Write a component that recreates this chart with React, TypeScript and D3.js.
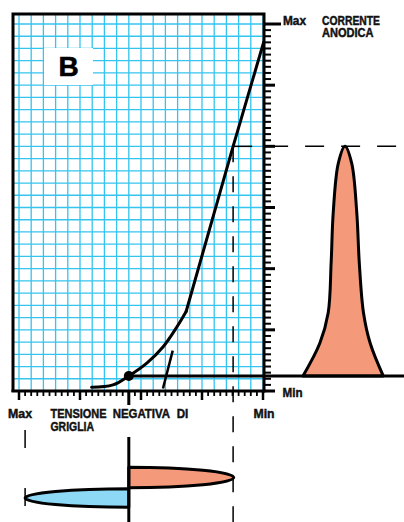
import React from "react";
import * as d3 from "d3";

// ---- Data ----
// Transfer characteristic: grid voltage (cells from Max) vs anode current (cells from Min)
const curveVg = [5.95, 7.7, 9.0, 10.5, 11.8, 12.95, 13.7, 17.55, 20.05];
const curveIa = [0.3, 0.5, 1.23, 2.3, 3.6, 5.25, 6.5, 20.0, 28.5];
// operating point
const opVg = [9.0];
const opIa = [1.23];
// short auxiliary line
const auxVg = [11.8, 12.6];
const auxIa = [0.2, 3.3];
// Anode current pulse (time offset, current)
const pulseT = [-1.0, -0.6, -0.4, -0.33, -0.28, -0.16, 0, 0.16, 0.28, 0.34, 0.44, 0.6, 0.91];
const pulseIa = [1.23, 3.9, 6.4, 10.5, 14.6, 18.6, 20.0, 18.6, 14.6, 10.5, 6.4, 3.9, 1.23];
// grid signal swing: [peak grid voltage, centre time, half duration]
const swingPeakVg = [17.6, 0.5];
const swingCentreT = [0.0, 1.0];
const swingHalfT = [0.5, 0.45];
const rightTickLabels = ["Max", "Min"];
const bottomTickLabels = ["Max", "Min"];
const axisTitleY = ["CORRENTE", "ANODICA"];
const axisTitleX = ["TENSIONE NEGATIVA DI", "GRIGLIA"];

const FONT = "'Liberation Sans', Arial, sans-serif";

export default function App() {
  const W = 404, H = 522;
  const left = 13, top = 14, right = 264, bottom = 391;
  const x = d3.scaleLinear().domain([0, 20]).range([19, 263]);
  const y = d3.scaleLinear().domain([0, 30]).range([391, 24]);
  const px = d3.scaleLinear().domain([-1, 1]).range([303, 387]);
  const t = d3.scaleLinear().domain([0, 1]).range([477.5, 498]);
  const tLen = (v: number) => Math.abs(t(v) - t(0));

  const grid = "#35c3ef";
  const salmon = "#f4997a";
  const blue = "#8dd8f5";

  const vLines = d3.range(0, 21).map((k) => x(k));
  const hLines = d3.range(0, 31).map((k) => y(k));

  const curvePath1 = d3
    .line<number>()
    .x((i) => x(curveVg[i]))
    .y((i) => y(curveIa[i]))
    .curve(d3.curveCatmullRom.alpha(0.5))([0, 1, 2, 3, 4, 5, 6]) as string;
  const curvePath2 = d3
    .line<number>()
    .x((i) => x(curveVg[i]))
    .y((i) => y(curveIa[i]))([6, 7, 8]) as string;

  const pulsePath =
    (d3
      .line<number>()
      .x((i) => px(pulseT[i]))
      .y((i) => y(pulseIa[i]))
      .curve(d3.curveCatmullRom.alpha(0.5))(pulseT.map((_, i) => i)) as string) + "Z";

  const cx = x(opVg[0]);
  const swingPath = (i: number) => {
    const cy = t(swingCentreT[i]);
    const h = tLen(swingHalfT[i]);
    const tip = x(swingPeakVg[i]);
    const rx = Math.abs(tip - cx);
    const sweep = tip > cx ? 1 : 0;
    return `M${cx},${cy - h}A${rx},${h} 0 0 ${sweep} ${tip},${cy}A${rx},${h} 0 0 ${sweep} ${cx},${cy + h}Z`;
  };

  const rightTicks = d3.range(0, 61).map((k) => ({ y: 24 + (k * (391 - 24)) / 60, k }));
  const bottomTicks = d3.range(0, 41).map((k) => ({ x: 19 + (k * (263 - 19)) / 40, k }));

  const lbl = (tx: number, ty: number, s: string, len: number) => (
    <text x={tx} y={ty} textLength={len} lengthAdjust="spacingAndGlyphs">
      {s}
    </text>
  );
  const titleWords = axisTitleX[0].split(" ");
  const wordX = [50.5, 112.7, 176.7];
  const wordLen = [56, 57.3, 11.6];

  return (
    <svg
      width={W}
      height={H}
      style={{ position: "absolute", left: 0, top: 0, background: "#fff" }}
      fontFamily={FONT}
    >
      {/* grid */}
      <g stroke={grid} strokeWidth={1.3}>
        {vLines.map((vx, i) => (
          <line key={"v" + i} x1={vx} x2={vx} y1={top} y2={bottom} />
        ))}
        {hLines.map((hy, i) => (
          <line key={"h" + i} x1={left} x2={right} y1={hy} y2={hy} />
        ))}
      </g>
      {/* B box */}
      <rect x={44} y={48} width={49} height={37} fill="#fff" />
      <text x={68.5} y={76} textAnchor="middle" fontSize={28} fontWeight="bold" stroke="#000" strokeWidth={0.6}>
        B
      </text>
      {/* frame */}
      <path d={`M${left},${bottom + 1}V${top}H${right}V${bottom + 1}`} fill="none" stroke="#000" strokeWidth={3} />
      <line x1={left - 1.5} x2={right + 1.5} y1={bottom} y2={bottom} stroke="#000" strokeWidth={3} />
      {/* right ticks */}
      <g stroke="#000">
        {rightTicks.map(({ y: ty, k }) => (
          <line
            key={"rt" + k}
            x1={right}
            x2={right + (k === 0 ? 17 : k % 10 === 0 ? 11 : 7)}
            y1={ty}
            y2={ty}
            strokeWidth={k % 10 === 0 ? 3 : 2}
          />
        ))}
      </g>
      {/* bottom ticks */}
      <g stroke="#000">
        {bottomTicks.map(({ x: tx, k }) => (
          <line
            key={"bt" + k}
            x1={tx}
            x2={tx}
            y1={bottom}
            y2={bottom + (k % 10 === 0 ? 9 : 5)}
            strokeWidth={k % 10 === 0 ? 2.5 : 1.8}
          />
        ))}
      </g>
      {/* dashed lines */}
      <g stroke="#000" strokeWidth={1.5} strokeDasharray="19,17" fill="none">
        <line x1={x(17.55)} x2={404} y1={y(20)} y2={y(20)} />
        <line x1={x(17.55)} x2={x(17.55)} y1={y(20)} y2={522} strokeDasharray="16,14" />
        <line x1={x(0.5)} x2={x(0.5)} y1={430} y2={522} strokeDasharray="18,40" />
      </g>
      {/* pulse */}
      <path d={pulsePath} fill={salmon} stroke="#000" strokeWidth={3} strokeLinejoin="round" />
      {/* operating line */}
      <line x1={x(opVg[0])} x2={404} y1={y(opIa[0])} y2={y(opIa[0])} stroke="#000" strokeWidth={3} />
      {/* transfer curve */}
      <path d={curvePath1} fill="none" stroke="#000" strokeWidth={3} strokeLinecap="round" />
      <path d={curvePath2} fill="none" stroke="#000" strokeWidth={3} strokeLinecap="round" />
      <line
        x1={x(auxVg[0])}
        x2={x(auxVg[1])}
        y1={y(auxIa[0])}
        y2={y(auxIa[1])}
        stroke="#000"
        strokeWidth={2.5}
      />
      <circle cx={x(opVg[0])} cy={y(opIa[0])} r={5} fill="#000" />
      <line x1={cx} x2={cx} y1={bottom} y2={405} stroke="#000" strokeWidth={3} />
      {/* grid signal */}
      <path d={swingPath(0)} fill={salmon} stroke="#000" strokeWidth={3} strokeLinejoin="round" />
      <path d={swingPath(1)} fill={blue} stroke="#000" strokeWidth={3} strokeLinejoin="round" />
      <line x1={cx} x2={cx} y1={437} y2={522} stroke="#000" strokeWidth={3} />
      {/* labels */}
      <g fontWeight="bold" fontSize={12.5} fill="#111" stroke="#111" strokeWidth={0.45}>
        {lbl(283, 24.5, rightTickLabels[0], 23)}
        {lbl(282.5, 396.5, rightTickLabels[1], 20)}
        {lbl(322, 24.5, axisTitleY[0], 58)}
        {lbl(322, 37, axisTitleY[1], 51.5)}
        {lbl(8, 417.5, bottomTickLabels[0], 24)}
        {lbl(253.5, 417.5, bottomTickLabels[1], 21)}
        {titleWords.map((w, i) => (
          <React.Fragment key={"w" + i}>{lbl(wordX[i], 417.5, w, wordLen[i])}</React.Fragment>
        ))}
        {lbl(50.5, 431, axisTitleX[1], 43.5)}
      </g>
    </svg>
  );
}
